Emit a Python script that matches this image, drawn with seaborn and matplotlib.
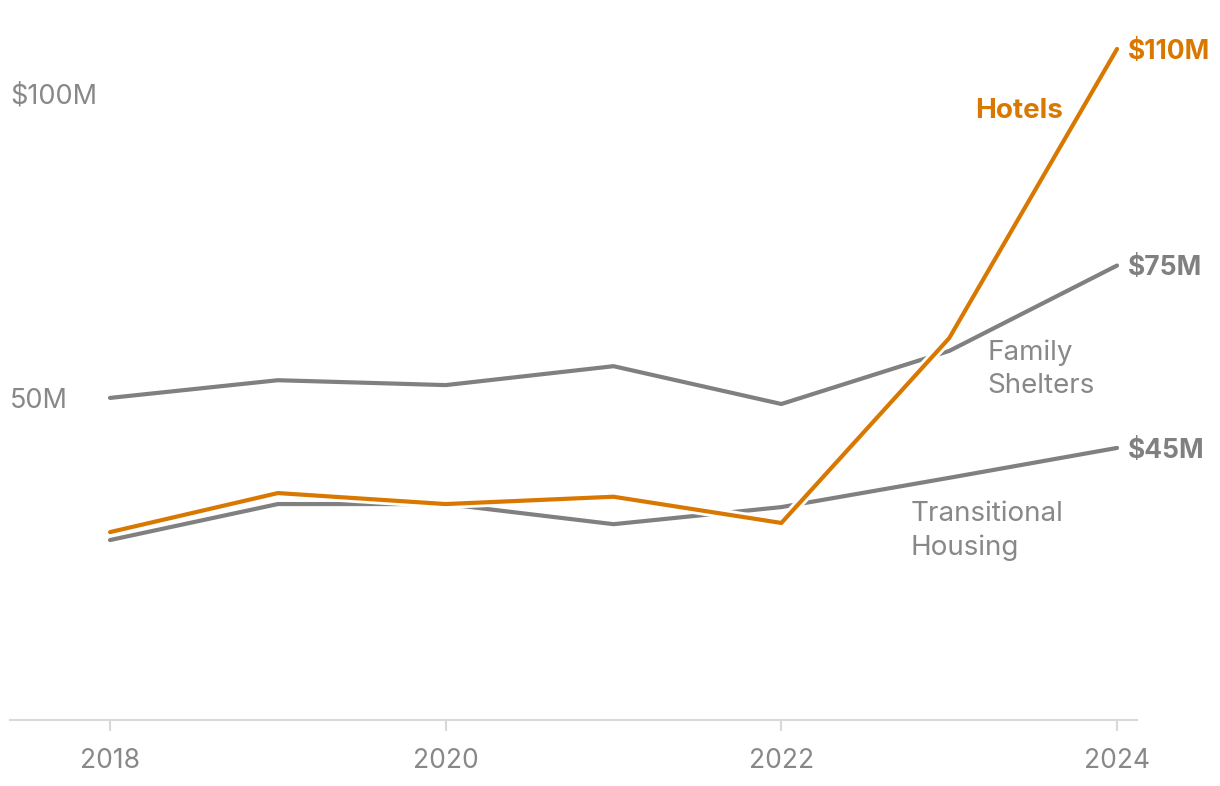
import pandas as pd
import matplotlib.pyplot as plt
import matplotlib.patheffects as pe
import seaborn as sns

# data (in $M)
years = [2018, 2019, 2020, 2021, 2022, 2023, 2024]
family_shelters = [52.8, 55.7, 54.9, 58.0, 51.8, 60.5, 74.5]
transitional_housing = [29.5, 35.4, 35.4, 32.1, 34.9, 39.7, 44.6]
hotels = [30.8, 37.2, 35.4, 36.6, 32.3, 62.6, 110.0]

series_names = ['Family Shelters', 'Transitional Housing', 'Hotels']
end_labels = ['$75M', '$45M', '$110M']
tick_years = [2018, 2020, 2022, 2024]

GRAY = '#808080'
TEXT_GRAY = '#888888'
ORANGE = '#d97800'

df = pd.DataFrame({
    'year': years * 3,
    'value': family_shelters + transitional_housing + hotels,
    'series': [s for s in series_names for _ in years],
})

sns.set_theme(style='white')
plt.rcParams['font.family'] = ['Inter', 'DejaVu Sans']

fig = plt.figure(figsize=(12.2, 7.86), dpi=100)
ax = fig.add_axes([10 / 1220, 66 / 786, 1127 / 1220, 700 / 786])

palette = {'Family Shelters': GRAY, 'Transitional Housing': GRAY, 'Hotels': ORANGE}
sns.lineplot(data=df, x='year', y='value', hue='series', palette=palette,
             linewidth=3, legend=False, ax=ax)

# white halo on the hotels line so it cuts through the gray ones
for line in ax.get_lines():
    if line.get_color() in (ORANGE, '#d97800'):
        line.set_path_effects([pe.Stroke(linewidth=7, foreground='white'), pe.Normal()])
        line.set_zorder(5)

ax.set_xlim(2017.404, 2024.119)
ax.set_ylim(0, 114.75)

# axes styling
for side in ['top', 'right', 'left']:
    ax.spines[side].set_visible(False)
ax.spines['bottom'].set_color('#d9d9d9')
ax.spines['bottom'].set_linewidth(1.5)
ax.set_xticks(tick_years)
ax.set_xticklabels([str(y) for y in tick_years])
ax.tick_params(axis='x', colors='#d9d9d9', length=8, width=1.5, pad=12,
               labelsize=19, labelcolor=TEXT_GRAY, bottom=True)
ax.set_yticks([])
ax.set_xlabel('')
ax.set_ylabel('')

# y labels sit just above their value
trans = ax.get_yaxis_transform()
ax.text(0, 100.1, '$100M', transform=trans, ha='left', va='bottom',
        fontsize=19.5, color=TEXT_GRAY)
ax.text(0, 50.1, '50M', transform=trans, ha='left', va='bottom',
        fontsize=19.5, color=TEXT_GRAY)

# end value labels
ends = [family_shelters[-1], transitional_housing[-1], hotels[-1]]
end_colors = [GRAY, GRAY, ORANGE]
for lab, val, col in zip(end_labels, ends, end_colors):
    ax.annotate(lab, xy=(years[-1], val), xytext=(8, -2), textcoords='offset points',
                ha='left', va='center', fontsize=19, fontweight='bold', color=col,
                annotation_clip=False)

# series labels
ax.text(2023.23, 57.5, 'Family\nShelters', ha='left', va='center',
        fontsize=20, color=TEXT_GRAY, linespacing=1.35)
ax.text(2022.77, 31.0, 'Transitional\nHousing', ha='left', va='center',
        fontsize=20, color=TEXT_GRAY, linespacing=1.35)
ax.text(2023.155, 99.8, 'Hotels', ha='left', va='center',
        fontsize=20, fontweight='bold', color=ORANGE)

fig.savefig('out.png', dpi=100)
